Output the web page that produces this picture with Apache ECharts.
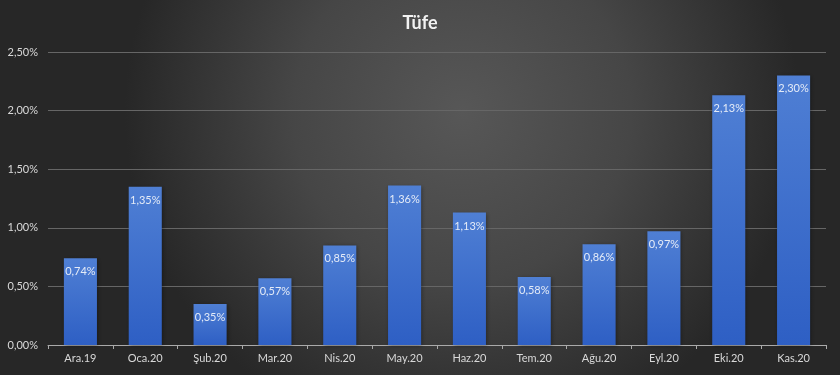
<!DOCTYPE html>
<html><head><meta charset="utf-8">
<script src="https://cdn.jsdelivr.net/npm/echarts@6/dist/echarts.min.js"></script>
<style>html,body{margin:0;padding:0;}#c{width:840px;height:375px;}</style>
</head><body><div id="c"></div>
<script>
const categories = ['Ara.19','Oca.20','Şub.20','Mar.20','Nis.20','May.20','Haz.20','Tem.20','Ağu.20','Eyl.20','Eki.20','Kas.20'];
const values = [0.74,1.35,0.35,0.57,0.85,1.36,1.13,0.58,0.86,0.97,2.13,2.30];
const titleText = 'Tüfe';
const fmt = v => v.toFixed(2).replace('.', ',') + '%';
const chart = echarts.init(document.getElementById('c'));
chart.setOption({
  backgroundColor: {type:'radial', x:0.55, y:0.3, r:0.9, colorStops:[{offset:0,color:'#575757'},{offset:0.5,color:'#464646'},{offset:1,color:'#272727'}]},
  title: {text: titleText, left: 'center', top: 9, textStyle:{color:'#f2f2f2', fontSize:18, fontWeight:'bold', fontFamily:'Lato'}},
  grid: {left: 48, right: 14, top: 52, bottom: 30},
  xAxis: {type:'category', data: categories,
    axisLine:{lineStyle:{color:'#aaaaaa'}},
    axisTick:{show:true, length:4, lineStyle:{color:'#aaaaaa'}},
    axisLabel:{color:'#d9d9d9', fontSize:11, fontFamily:'Lato', margin:8}},
  yAxis: {type:'value', min:0, max:2.5, interval:0.5,
    axisLabel:{formatter: v => fmt(v), color:'#d9d9d9', fontSize:11, fontFamily:'Lato', margin:10},
    splitLine:{lineStyle:{color:'#666666', width:1}},
    axisLine:{show:false}, axisTick:{show:false}},
  series: [{type:'bar', data: values, barWidth:'51%',
    itemStyle:{color:{type:'linear', x:0,y:0,x2:0,y2:1, colorStops:[{offset:0,color:'#4f7fd4'},{offset:1,color:'#2e5fc4'}]},
      shadowColor:'rgba(0,0,0,0.35)', shadowBlur:4, shadowOffsetX:1, shadowOffsetY:1},
    label:{show:true, position:'insideTop', distance:8, color:'#e4ebf7', fontSize:11, fontFamily:'Lato', formatter: p => fmt(p.value)}}]
});
</script></body></html>
